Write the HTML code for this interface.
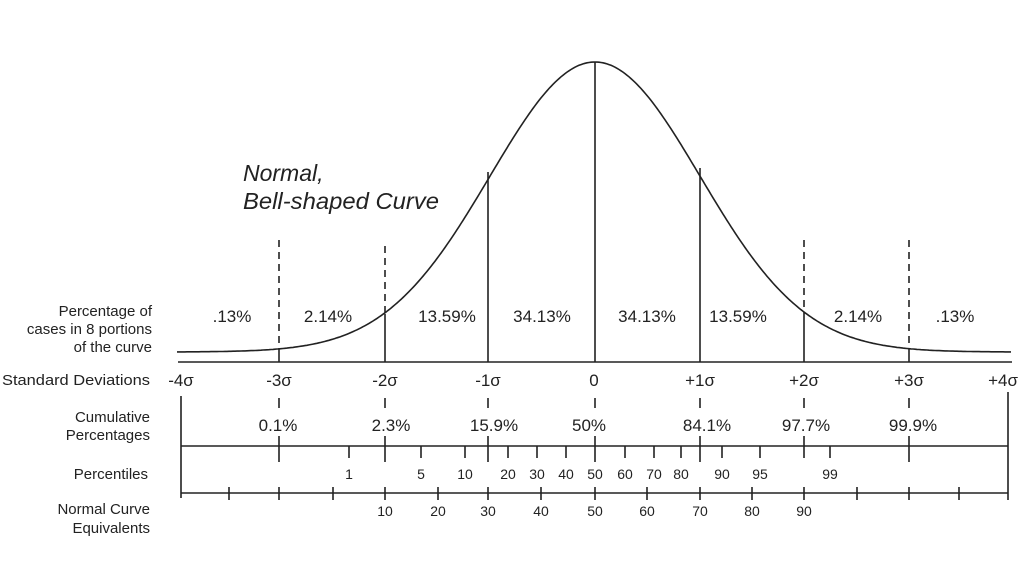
<!DOCTYPE html>
<html><head><meta charset="utf-8"><style>
html,body{margin:0;padding:0;background:#fff;}
svg{display:block;font-family:"Liberation Sans",Arial,sans-serif;fill:#222;}
</style></head><body>
<svg width="1024" height="576" viewBox="0 0 1024 576" xmlns="http://www.w3.org/2000/svg">
<g stroke="#222" stroke-width="1.6" fill="none">
<path id="curve" d=""/>
<line x1="178" y1="362" x2="1012" y2="362"/>
<line x1="385" y1="314" x2="385" y2="362"/>
<line x1="488" y1="172" x2="488" y2="362"/>
<line x1="595" y1="62" x2="595" y2="362"/>
<line x1="700" y1="168" x2="700" y2="362"/>
<line x1="804" y1="314" x2="804" y2="362"/>
<line x1="279" y1="348" x2="279" y2="362"/>
<line x1="909" y1="348" x2="909" y2="362"/>
<g stroke-dasharray="7,5">
<line x1="279" y1="240" x2="279" y2="348"/>
<line x1="385" y1="246" x2="385" y2="314"/>
<line x1="804" y1="240" x2="804" y2="314"/>
<line x1="909" y1="240" x2="909" y2="348"/>
</g>
<line x1="181" y1="396" x2="181" y2="498"/>
<line x1="1008" y1="392" x2="1008" y2="500"/>
<line x1="181" y1="446" x2="1008" y2="446"/>
<line x1="181" y1="493" x2="1008" y2="493"/>
<g>
<line x1="279" y1="398" x2="279" y2="408"/><line x1="385" y1="398" x2="385" y2="408"/>
<line x1="488" y1="398" x2="488" y2="408"/><line x1="595" y1="398" x2="595" y2="408"/>
<line x1="700" y1="398" x2="700" y2="408"/><line x1="804" y1="398" x2="804" y2="408"/>
<line x1="909" y1="398" x2="909" y2="408"/>
<line x1="279" y1="436" x2="279" y2="462"/><line x1="385" y1="436" x2="385" y2="462"/>
<line x1="488" y1="436" x2="488" y2="462"/><line x1="595" y1="436" x2="595" y2="462"/>
<line x1="700" y1="436" x2="700" y2="462"/><line x1="804" y1="436" x2="804" y2="458"/>
<line x1="909" y1="436" x2="909" y2="462"/>
<line x1="349" y1="446" x2="349" y2="458"/><line x1="421" y1="446" x2="421" y2="458"/>
<line x1="465" y1="446" x2="465" y2="458"/><line x1="508" y1="446" x2="508" y2="458"/>
<line x1="537" y1="446" x2="537" y2="458"/><line x1="566" y1="446" x2="566" y2="458"/>
<line x1="625" y1="446" x2="625" y2="458"/><line x1="654" y1="446" x2="654" y2="458"/>
<line x1="681" y1="446" x2="681" y2="458"/><line x1="722" y1="446" x2="722" y2="458"/>
<line x1="760" y1="446" x2="760" y2="458"/><line x1="830" y1="446" x2="830" y2="458"/>
</g>
<g>
<line x1="229" y1="487" x2="229" y2="500"/><line x1="279" y1="487" x2="279" y2="500"/>
<line x1="333" y1="487" x2="333" y2="500"/><line x1="385" y1="487" x2="385" y2="500"/>
<line x1="438" y1="487" x2="438" y2="500"/><line x1="488" y1="487" x2="488" y2="500"/>
<line x1="541" y1="487" x2="541" y2="500"/><line x1="595" y1="487" x2="595" y2="500"/>
<line x1="647" y1="487" x2="647" y2="500"/><line x1="700" y1="487" x2="700" y2="500"/>
<line x1="752" y1="487" x2="752" y2="500"/><line x1="804" y1="487" x2="804" y2="500"/>
<line x1="857" y1="487" x2="857" y2="500"/><line x1="909" y1="487" x2="909" y2="500"/>
<line x1="959" y1="487" x2="959" y2="500"/>
</g>
</g>
<text x="243" y="181" font-size="23" font-style="italic">Normal,</text>
<text x="243" y="209" font-size="23" font-style="italic" textLength="196" lengthAdjust="spacingAndGlyphs">Bell-shaped Curve</text>
<g font-size="15" text-anchor="end">
<text x="152" y="316">Percentage of</text>
<text x="152" y="334">cases in 8 portions</text>
<text x="152" y="352">of the curve</text>
<text x="150" y="385" textLength="148" lengthAdjust="spacingAndGlyphs">Standard Deviations</text>
<text x="150" y="422">Cumulative</text>
<text x="150" y="440">Percentages</text>
<text x="148" y="479">Percentiles</text>
<text x="150" y="514">Normal Curve</text>
<text x="150" y="533">Equivalents</text>
</g>
<g font-size="17" text-anchor="middle">
<text x="232" y="322">.13%</text><text x="328" y="322">2.14%</text>
<text x="447" y="322">13.59%</text><text x="542" y="322">34.13%</text>
<text x="647" y="322">34.13%</text><text x="738" y="322">13.59%</text>
<text x="858" y="322">2.14%</text><text x="955" y="322">.13%</text>
<text x="181" y="386">-4σ</text><text x="279" y="386">-3σ</text><text x="385" y="386">-2σ</text>
<text x="488" y="386">-1σ</text><text x="594" y="386">0</text><text x="700" y="386">+1σ</text>
<text x="804" y="386">+2σ</text><text x="909" y="386">+3σ</text><text x="1003" y="386">+4σ</text>
<text x="278" y="431">0.1%</text><text x="391" y="431">2.3%</text><text x="494" y="431">15.9%</text>
<text x="589" y="431">50%</text><text x="707" y="431">84.1%</text><text x="806" y="431">97.7%</text>
<text x="913" y="431">99.9%</text>
</g>
<g font-size="14" text-anchor="middle">
<text x="349" y="479">1</text><text x="421" y="479">5</text><text x="465" y="479">10</text>
<text x="508" y="479">20</text><text x="537" y="479">30</text><text x="566" y="479">40</text>
<text x="595" y="479">50</text><text x="625" y="479">60</text><text x="654" y="479">70</text>
<text x="681" y="479">80</text><text x="722" y="479">90</text><text x="760" y="479">95</text>
<text x="830" y="479">99</text>
<text x="385" y="516">10</text><text x="438" y="516">20</text><text x="488" y="516">30</text>
<text x="541" y="516">40</text><text x="595" y="516">50</text><text x="647" y="516">60</text>
<text x="700" y="516">70</text><text x="752" y="516">80</text><text x="804" y="516">90</text>
</g>
<script>
var d="";for(var x=177;x<=1012;x+=2){var z=(x-595)/105;var y=352-290*Math.exp(-z*z/2);d+=(x==177?"M":"L")+x+","+y.toFixed(1);}
document.getElementById("curve").setAttribute("d",d);
</script>
</svg>
</body></html>
